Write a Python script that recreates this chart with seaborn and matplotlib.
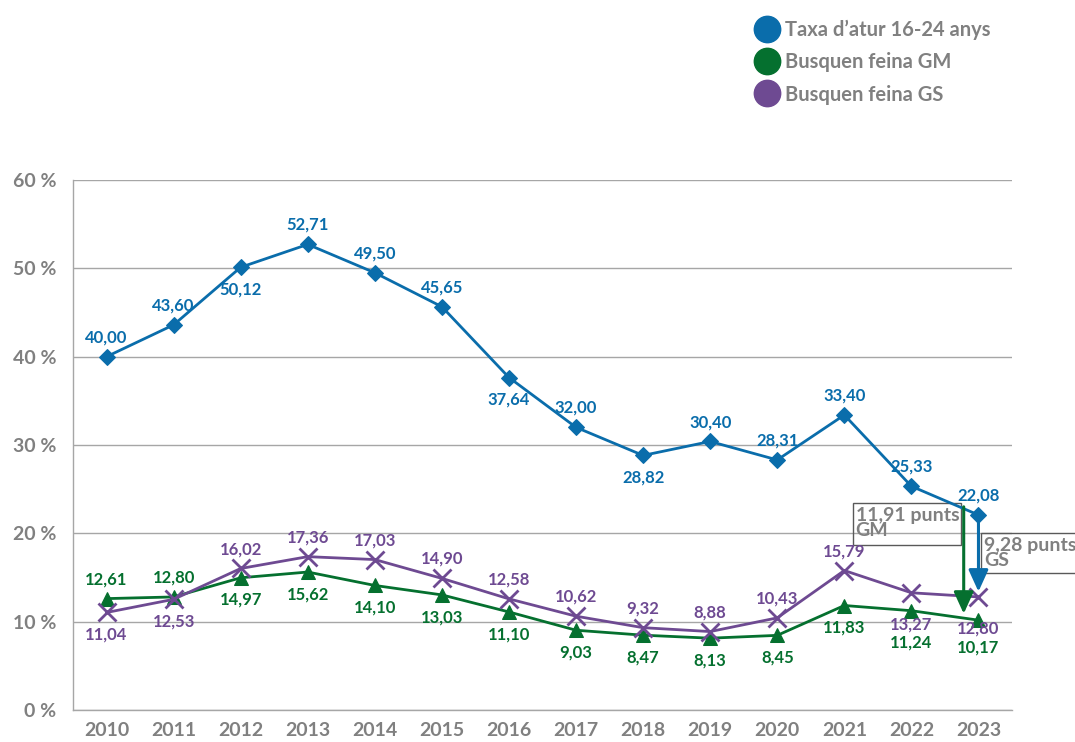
import matplotlib
matplotlib.use("Agg")
import matplotlib.pyplot as plt
import seaborn as sns
from matplotlib.lines import Line2D
from matplotlib.patches import Rectangle

years = list(range(2010, 2024))
atur = [40.00, 43.60, 50.12, 52.71, 49.50, 45.65, 37.64, 32.00, 28.82, 30.40, 28.31, 33.40, 25.33, 22.08]
feina_gm = [12.61, 12.80, 14.97, 15.62, 14.10, 13.03, 11.10, 9.03, 8.47, 8.13, 8.45, 11.83, 11.24, 10.17]
feina_gs = [11.04, 12.53, 16.02, 17.36, 17.03, 14.90, 12.58, 10.62, 9.32, 8.88, 10.43, 15.79, 13.27, 12.80]
series_names = ["Taxa d\u2019atur 16-24 anys", "Busquen feina GM", "Busquen feina GS"]
y_ticks = [0, 10, 20, 30, 40, 50, 60]

# where each value label goes: 'a' above, 'b' below, 'B'/'C' further below
pos_atur = ["a", "a", "b", "a", "a", "a", "b", "a", "b", "a", "a", "a", "a", "a"]
pos_gm = ["a", "a", "b", "b", "b", "b", "b", "b", "b", "b", "b", "b", "B", "C"]
pos_gs = ["b", "b", "a", "a", "a", "a", "a", "a", "a", "a", "a", "a", "B", "B"]
offsets = {"a": 14, "b": -16, "B": -23, "C": -20}

BLUE = "#0a6dab"
GREEN = "#05702f"
PURPLE = "#6e4a92"
GREY = "#808080"
GRID = "#a6a6a6"

sns.set_theme(style="white")
plt.rcParams["font.family"] = ["Lato", "DejaVu Sans"]

fig = plt.figure(figsize=(10.75, 7.42), dpi=100)
ax = fig.add_axes([73 / 1075, 1 - 710 / 742, (1012 - 73) / 1075, (710 - 180) / 742])

sns.lineplot(x=years, y=atur, ax=ax, color=BLUE, lw=2, marker="D", markersize=8.5,
             markeredgecolor=BLUE)
sns.lineplot(x=years, y=feina_gm, ax=ax, color=GREEN, lw=2, marker="^", markersize=10,
             markeredgecolor=GREEN)
sns.lineplot(x=years, y=feina_gs, ax=ax, color=PURPLE, lw=2, marker="x", markersize=13,
             markeredgewidth=2, markeredgecolor=PURPLE)


def fmt(v):
    return f"{v:.2f}".replace(".", ",")


for vals, places, col in [(atur, pos_atur, BLUE), (feina_gm, pos_gm, GREEN),
                          (feina_gs, pos_gs, PURPLE)]:
    for x, v, p in zip(years, vals, places):
        ax.annotate(fmt(v), (x, v), xytext=(0, offsets[p]), textcoords="offset points",
                    ha="center", va="center", fontsize=12, fontweight="bold", color=col)

# difference arrows for 2023
ax.annotate("", xy=(2022.78, 10.9), xytext=(2022.78, 23.0),
            arrowprops=dict(arrowstyle="-|>,head_width=0.5,head_length=1.1",
                            color=GREEN, lw=2.2, shrinkA=0, shrinkB=0))
ax.annotate("", xy=(2023.0, 13.4), xytext=(2023.0, 21.7),
            arrowprops=dict(arrowstyle="-|>,head_width=0.5,head_length=1.1",
                            color=BLUE, lw=2.2, shrinkA=0, shrinkB=0))
ax.add_patch(Rectangle((2021.136, 18.68), 1.611, 4.76, fill=False, ec="#595959", lw=1,
                       clip_on=False))
ax.add_patch(Rectangle((2023.045, 15.51), 1.6, 4.53, fill=False, ec="#595959", lw=1,
                       clip_on=False))
ax.text(2021.17, 22.95, "11,91 punts\nGM", ha="left", va="top", fontsize=14,
        fontweight="bold", color=GREY, linespacing=0.85, clip_on=False)
ax.text(2023.08, 19.55, "9,28 punts\nGS", ha="left", va="top", fontsize=14,
        fontweight="bold", color=GREY, linespacing=0.85, clip_on=False)

ax.set_xlim(2009.5, 2023.5)
ax.set_ylim(0, 60)
ax.set_yticks(y_ticks)
ax.set_yticklabels([f"{t} %" for t in y_ticks])
ax.set_xticks(years)
ax.set_xticks([y - 0.5 for y in years] + [2023.5], minor=True)
ax.tick_params(axis="x", which="major", length=0, pad=9, labelsize=14, labelcolor=GREY)
ax.tick_params(axis="x", which="minor", length=10, width=1, color=GRID, direction="out")
ax.tick_params(axis="y", length=6, width=1, color=GRID, direction="out", pad=6,
               labelsize=14, labelcolor=GREY)
for lab in ax.get_xticklabels() + ax.get_yticklabels():
    lab.set_fontweight("bold")
ax.grid(axis="y", color=GRID, lw=1)
ax.set_axisbelow(True)
sns.despine(ax=ax)
for side in ["left", "bottom"]:
    ax.spines[side].set_color(GRID)
    ax.spines[side].set_linewidth(1)

handles = [Line2D([], [], ls="none", marker="o", markersize=19, color=c)
           for c in [BLUE, GREEN, PURPLE]]
leg = fig.legend(handles, series_names, loc="upper left",
                 bbox_to_anchor=(745 / 1075, 1 - 12 / 742), frameon=False,
                 fontsize=14.5, labelspacing=0.6, handletextpad=0.2, handlelength=1.4,
                 borderaxespad=0)
for t in leg.get_texts():
    t.set_color(GREY)
    t.set_fontweight("bold")

fig.savefig("out.png", dpi=100)
